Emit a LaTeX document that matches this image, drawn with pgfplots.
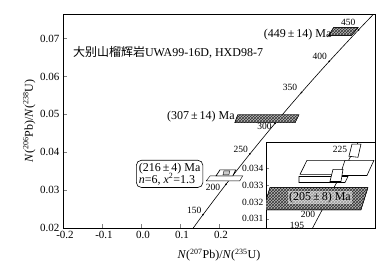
\documentclass[border=0pt]{standalone}
\usepackage{fontspec}
\setmainfont{Liberation Serif}
\newfontfamily\cjk{Noto Sans CJK SC}
\usepackage{pgfplots}
\pgfplotsset{compat=1.18}
\usetikzlibrary{patterns}
\newcommand{\pmsp}{\,±\,}
\begin{document}
\begin{tikzpicture}[x=1pt,y=1pt]
\useasboundingbox (0,0) rectangle (391,268);
\begin{axis}[at={(63pt,40pt)}, anchor=south west, width=312pt, height=214pt, scale only axis,
  xmin=-0.2, xmax=0.6, ymin=0.02, ymax=0.0765,
  /pgf/number format/assume math mode=true,
  xtick={-0.2,-0.1,0,0.1,0.2}, xticklabels={-0.2,-0.1,0.0,0.1,0.2},
  ytick={0.02,0.03,0.04,0.05,0.06,0.07}, yticklabels={0.02,0.03,0.04,0.05,0.06,0.07},
  scaled x ticks=false, scaled y ticks=false,
  tick align=inside, xtick pos=bottom, ytick pos=left, major tick length=4pt,
  tick label style={font=\fontsize{11}{12}\selectfont},
  xticklabel style={xshift=2pt},
  label style={font=\fontsize{12}{14}\selectfont},
  xlabel={\textit{N}(\textsuperscript{207}Pb)/\textit{N}(\textsuperscript{235}U)},
  ylabel={\textit{N}(\textsuperscript{206}Pb)/\textit{N}(\textsuperscript{238}U)},
  xlabel style={yshift=-3pt}, ylabel style={yshift=-2pt},
  axis line style={line width=0.8pt}, tick style={line width=0.6pt}]
% concordia
\addplot[black, line width=0.6pt, smooth] coordinates {
 (0.13101,0.019580) (0.15920,0.023542) (0.21771,0.031511) (0.27915,0.039543)
 (0.34374,0.047638) (0.41155,0.055795) (0.48281,0.064016) (0.55767,0.072300) (0.60437,0.077303)};
\addplot[only marks, mark=*, mark size=0.6pt, black] coordinates {
 (0.15920,0.023542) (0.21771,0.031511) (0.27915,0.039543) (0.34374,0.047638)
 (0.41155,0.055795) (0.48281,0.064016) (0.55767,0.072300)};
% 449 Ma box
\addplot[draw=black, fill=gray!55, postaction={pattern=crosshatch, pattern color=black!80}] coordinates {
 (0.4937,0.07291) (0.5570,0.07291) (0.5392,0.07079) (0.4810,0.07079)} -- cycle;
% 307 Ma box
\addplot[draw=black, fill=gray!55, postaction={pattern=crosshatch, pattern color=black!80}] coordinates {
 (0.2481,0.04989) (0.4050,0.04989) (0.3949,0.04778) (0.2405,0.04778)} -- cycle;
% small boxes near 216 Ma
\addplot[draw=black, fill=white] coordinates {
 (0.17721,0.033757) (0.26075,0.033757) (0.25316,0.032434) (0.16708,0.032434)} -- cycle;
\addplot[draw=black, fill=white, line width=0.7pt] coordinates {
 (0.20252,0.035344) (0.24303,0.035344) (0.23544,0.033757) (0.19240,0.033757)} -- cycle;
\addplot[draw=black, fill=gray!40] coordinates {
 (0.21265,0.035079) (0.22784,0.035079) (0.22531,0.034021) (0.21012,0.034021)} -- cycle;
% age labels
\begin{scope}[font=\fontsize{9.5}{10}\selectfont]
\node at (axis cs:0.1367,0.02476) {150};
\node at (axis cs:0.1848,0.03060) {200};
\node at (axis cs:0.2557,0.04063) {250};
\node at (axis cs:0.3165,0.04672) {300};
\node at (axis cs:0.3823,0.05704) {350};
\node at (axis cs:0.4582,0.06524) {400};
\node at (axis cs:0.5316,0.07423) {450};
\end{scope}
\begin{scope}[font=\fontsize{12}{14}\selectfont]
\node[anchor=east, inner sep=0pt] at (axis cs:0.4886,0.0711) {(449\pmsp14)~Ma};
\node[anchor=east, inner sep=0pt] at (axis cs:0.2405,0.04937) {(307\pmsp14)~Ma};
\node[anchor=west, inner sep=0pt] at (axis cs:-0.1747,0.0663) {{\cjk 大别山榴辉岩}UWA99-16D, HXD98-7};
\node[draw, rounded corners=5pt, align=left, inner sep=2.5pt, line width=0.6pt] at (axis cs:0.0734,0.03429)
  {(216\pmsp4)~Ma\\[-2pt]\textit{n}=6, \textit{x}\textsuperscript{2}=1.3};
\end{scope}
\end{axis}
% inset
\begin{axis}[at={(266pt,40pt)}, anchor=south west, width=109pt, height=86pt, scale only axis,
  xmin=0.1707, xmax=0.2623, ymin=0.03046, ymax=0.03556,
  /pgf/number format/assume math mode=true,
  xtick=\empty, ytick={0.031,0.032,0.033,0.034}, yticklabels={0.031,0.032,0.033,0.034},
  scaled y ticks=false, ytick pos=left, tick align=inside, major tick length=3pt,
  tick label style={font=\fontsize{9.5}{10}\selectfont},
  yticklabel style={xshift=1pt},
  axis background/.style={fill=white},
  axis line style={line width=0.8pt}, tick style={line width=0.6pt}]
\addplot[black, line width=0.6pt, smooth] coordinates {
 (0.20576,0.029913) (0.21172,0.030712) (0.21771,0.031511) (0.22372,0.032312) (0.22976,0.033113)
 (0.23582,0.033914) (0.24191,0.034717) (0.24806,0.035519) (0.25423,0.036323)};
% 205 Ma hatched box
\addplot[draw=black, fill=gray!55, postaction={pattern=crosshatch, pattern color=black!80}] coordinates {
 (0.17406,0.032857) (0.25638,0.032857) (0.25050,0.031539) (0.16818,0.031539)} -- cycle;
% white boxes
\addplot[draw=black, fill=white, line width=0.6pt] coordinates {
 (0.19842,0.033516) (0.23958,0.033516) (0.23706,0.033156) (0.19842,0.033156)} -- cycle;
\addplot[draw=black, fill=white, line width=0.6pt] coordinates {
 (0.20514,0.034474) (0.24126,0.034474) (0.23538,0.033636) (0.19926,0.033636)} -- cycle;
\addplot[draw=black, fill=white, line width=0.6pt] coordinates {
 (0.23706,0.034474) (0.26142,0.034474) (0.25554,0.033576) (0.23286,0.033576)} -- cycle;
\addplot[draw=black, fill=white, line width=0.6pt] coordinates {
 (0.22698,0.033935) (0.23538,0.033935) (0.23370,0.033216) (0.22446,0.033216)} -- cycle;
\addplot[draw=black, fill=white, line width=0.6pt] coordinates {
 (0.24294,0.035433) (0.25050,0.035433) (0.24798,0.034654) (0.24042,0.034714)} -- cycle;
\node[font=\fontsize{12}{14}\selectfont, fill=white, fill opacity=0.5, text opacity=1, inner sep=1pt]
  at (axis cs:0.2161,0.03226) {(205\pmsp8)~Ma};
\begin{scope}[font=\fontsize{9.5}{10}\selectfont]
\node at (axis cs:0.2329,0.03513) {225};
\node at (axis cs:0.2060,0.03124) {200};
\node at (axis cs:0.1967,0.03064) {195};
\end{scope}
\end{axis}
\end{tikzpicture}
\end{document}
